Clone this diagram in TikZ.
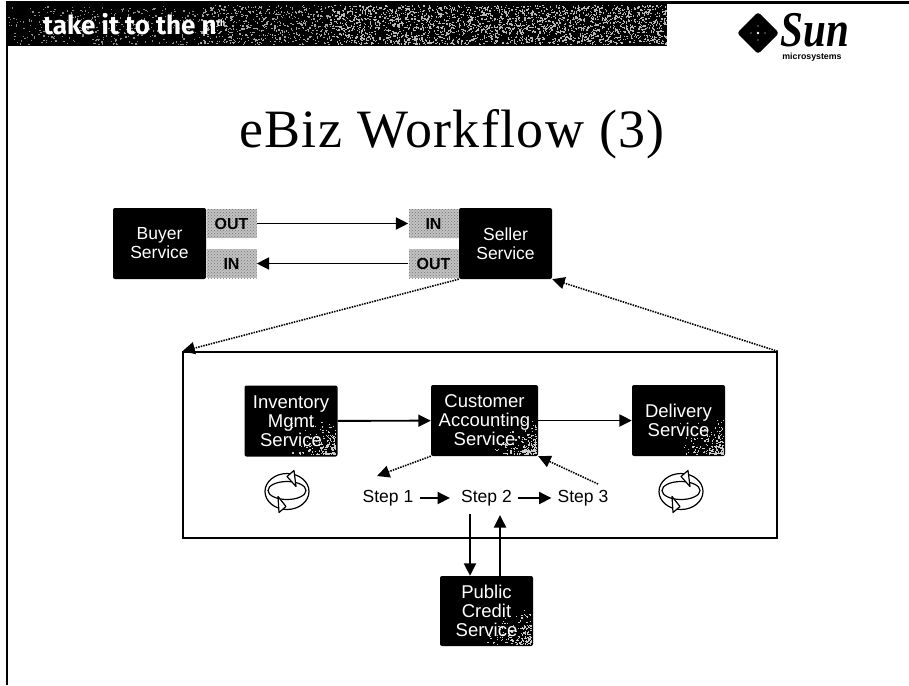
\documentclass[tikz,border=0pt]{standalone}
\usepackage{fontspec}
\setmainfont{Liberation Sans}
\newfontfamily\titlefont[LetterSpace=2.5]{Liberation Serif}
\newfontfamily\sunfont{Liberation Serif}
\newfontfamily\bandfont{Fira Sans}
\usetikzlibrary{arrows.meta,patterns}
\newcommand{\grainband}[6]{% x0 x1 y0 y1 count colour
  \foreach \i in {1,...,#5}{%
    \pgfmathsetmacro\gx{#1+(#2-#1)*rnd}%
    \pgfmathsetmacro\gy{#3+(#4-#3)*rnd}%
    \fill[#6] (\gx,\gy) rectangle ++(1.3,1.3);}}
\newcommand{\graincorner}[2]{%
  \begin{scope}[shift={(#1.south east)}]
  \foreach \i in {1,...,#2}{%
    \pgfmathsetmacro\gx{-2.5-48*rnd*rnd}%
    \pgfmathsetmacro\gy{-2.5-38*rnd*rnd}%
    \fill[white!80!black] (\gx,\gy) rectangle ++(1.2,1.2);}
  \end{scope}}
\tikzset{
  svc/.style={fill=black,rounded corners=2pt,text=white,align=center,inner sep=0pt,
    minimum width=93,minimum height=71,font=\fontsize{17.5}{19}\selectfont},
  svcbox/.style={fill=black,rounded corners=2pt,inner sep=0pt,minimum width=93,minimum height=71},
  svctext/.style={text=white,align=center,inner sep=0pt,font=\fontsize{18.5}{19}\selectfont},
  port/.style={preaction={fill=black!24},pattern=crosshatch dots,pattern color=black!55,inner sep=0pt,text=black,
    minimum width=50,minimum height=29,font=\bfseries\fontsize{16}{18}\selectfont},
  steptext/.style={inner xsep=6pt,inner ysep=2pt,font=\fontsize{17.5}{20}\selectfont},
  solidarrow/.style={-{Triangle[length=12.5,width=12]},line width=1.9pt},
  dotarrow/.style={-{Triangle[length=12.5,width=12]},line width=1.6pt,dash pattern=on 1.5pt off 1.1pt},
  ringline/.style={line width=1.2pt,draw=black},
  cycle/.pic={
    \filldraw[ringline,fill=white] (0,0) ellipse [x radius=22,y radius=18];
    \draw[ringline] (0,-1) ellipse [x radius=19,y radius=9];
    \filldraw[ringline,fill=white,line join=round] (0,-15) -- (7,-21) -- (9,-5) -- cycle;
    \filldraw[ringline,fill=white,line join=round] (-1,15) -- (-8,21) -- (-9,5) -- cycle;
  }
}
\begin{document}
\begin{tikzpicture}[x=1pt,y=-1pt]
\useasboundingbox (0,0) rectangle (909,685);
\pgfmathsetseed{4217}
% header
\fill[black] (6,3) rectangle (667,46);
\grainband{8}{200}{6}{44}{330}{white!55!black}
\grainband{200}{330}{5}{44}{550}{white!65!black}
\grainband{330}{666}{5}{44}{2400}{white!72!black}
\draw[line width=3pt] (6,3) -- (909,3);
\draw[line width=2pt] (6.5,3) -- (6.5,685);
\node[text=white,anchor=base west,inner sep=0pt,font=\bandfont\bfseries\fontsize{26}{28}\selectfont] (band) at (43,35) {take it to the n\raisebox{9pt}{\fontsize{9}{9}\selectfont th}};
% logo
\fill[black,rounded corners=3pt] (758,12) -- (779,33) -- (758,54) -- (737,33) -- cycle;
\fill[white] (758,33) circle (1.4) (751,33) circle (0.6) (765,33) circle (0.6) (758,26) circle (0.6) (758,40) circle (0.6);
\node[anchor=base,inner sep=0pt,font=\sunfont\itshape\bfseries\fontsize{50}{50}\selectfont] (sun) at (815,47) {\scalebox{0.82}[1]{Sun}};
\node[inner sep=0pt,font=\bfseries\fontsize{8.8}{9}\selectfont] (micro) at (812,57) {microsystems};
% title
\node[inner sep=0pt,font=\titlefont\fontsize{54}{58}\selectfont] (title) at (452,134) {eBiz Workflow (3)};
% top row
\node[svc] (buyer) at (159.5,243.5) {Buyer\\Service};
\node[svc] (seller) at (505.5,243.5) {Seller\\Service};
\node[port] (bo) at (231.5,223.5) {OUT};
\node[port] (bi) at (231.5,263.5) {IN};
\node[port] (si) at (433.5,223.5) {IN};
\node[port] (so) at (433.5,263.5) {OUT};
\draw[solidarrow] (bo) -- (si);
\draw[solidarrow] (so) -- (bi);
% big box
\node[draw,line width=1.4pt,inner sep=0pt,minimum width=594,minimum height=186] (frame) at (480,445) {};
\draw[dotarrow] (seller.south west) -- (frame.north west);
\draw[dotarrow] (frame.north east) -- (seller.south east);
% services
\node[svcbox] (inv) at (291,421) {};
\graincorner{inv}{170}
\node[svctext] (invtext) at (inv.center) {Inventory\\Mgmt\\Service};
\node[svcbox,minimum width=107] (cust) at (484.5,420.5) {};
\graincorner{cust}{190}
\node[svctext] (custtext) at (cust.center) {Customer\\Accounting\\Service};
\node[svcbox] (del) at (678.5,420.5) {};
\graincorner{del}{190}
\node[svctext] (deltext) at (del.center) {Delivery\\Service};
\node[svcbox,minimum height=70] (pub) at (486.5,611) {};
\graincorner{pub}{170}
\node[svctext] (pubtext) at (pub.center) {Public\\Credit\\Service};
\draw[solidarrow] (inv) -- (cust);
\draw[solidarrow] (cust) -- (del);
% steps
\node[steptext] (s1) at (388,498) {Step 1};
\node[steptext] (s2) at (486.5,498) {Step 2};
\node[steptext] (s3) at (583,498) {Step 3};
\draw[solidarrow,shorten >=5pt] (s1) -- (s2);
\draw[solidarrow] (s2) -- (s3);
\coordinate (s1top) at (377,476);
\coordinate (s3top) at (598,484);
\draw[dotarrow] (cust.south west) -- (s1top);
\draw[dotarrow] (s3top) -- (cust.south east);
\coordinate (downtop) at (470,514);
\coordinate (uptop) at (500,515);
\draw[solidarrow] (downtop) -- (downtop |- pub.north);
\draw[solidarrow] (uptop |- pub.north) -- (uptop);
% cycles
\pic at (287,491.5) {cycle};
\pic at (681,491.5) {cycle};
\end{tikzpicture}
\end{document}
